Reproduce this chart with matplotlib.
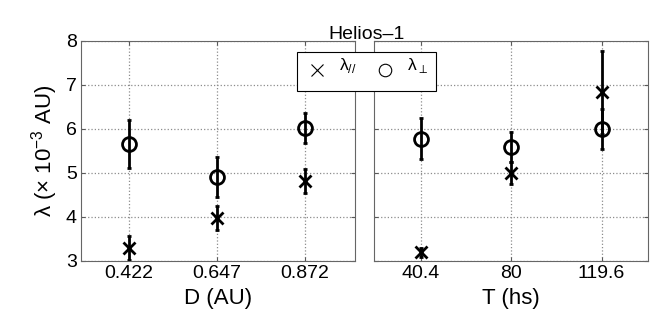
import matplotlib
matplotlib.use('Agg')
import matplotlib.pyplot as plt
from matplotlib.lines import Line2D

plt.rcParams['font.family'] = ['Liberation Sans', 'DejaVu Sans']
plt.rcParams['mathtext.fontset'] = 'custom'
plt.rcParams['mathtext.rm'] = 'Liberation Sans'
plt.rcParams['mathtext.it'] = 'Liberation Sans'

# distancia (AU)
d = [0.422, 0.647, 0.872]
d_par = [3.30, 3.97, 4.82]
d_par_err = [0.27, 0.27, 0.27]
d_perp = [5.66, 4.91, 6.02]
d_perp_err = [0.54, 0.46, 0.33]

# tiempo (hs)
t = [40.4, 80, 119.6]
t_par = [3.20, 5.00, 6.83]
t_par_err = [0.10, 0.25, 0.94]
t_perp = [5.78, 5.58, 6.00]
t_perp_err = [0.47, 0.34, 0.45]

fig = plt.figure(figsize=(6.54, 3.27), dpi=100)
ax1 = fig.add_axes([0.124, 0.202, 0.419, 0.673])
ax2 = fig.add_axes([0.572, 0.202, 0.419, 0.673])

estilo = dict(color='black', elinewidth=2, capsize=1.5, capthick=2,
              linestyle='none', markerfacecolor='none', markeredgewidth=2)

for ax, x, par, par_e, perp, perp_e in [(ax1, d, d_par, d_par_err, d_perp, d_perp_err),
                                        (ax2, t, t_par, t_par_err, t_perp, t_perp_err)]:
    ax.errorbar(x, par, yerr=par_e, marker='x', markersize=9, **estilo)
    ax.errorbar(x, perp, yerr=perp_e, marker='o', markersize=10, **estilo)
    ax.set_ylim(3, 8)
    ax.set_yticks([3, 4, 5, 6, 7, 8])
    ax.set_xticks(x)
    ax.set_xticklabels([str(v) for v in x])
    ax.grid(True, linestyle=':', color='0.55', linewidth=0.9)
    ax.tick_params(direction='in', length=3, labelsize=14, color='0.35',
                   top=True, right=True, pad=3)
    for s in ax.spines.values():
        s.set_color('0.4')

ax1.set_xlim(0.3, 1.0)
ax2.set_xlim(20, 140)
ax2.set_yticklabels([])

ax1.set_xlabel('D (AU)', fontsize=16, labelpad=4)
ax2.set_xlabel('T (hs)', fontsize=16, labelpad=4)
ax1.set_ylabel(r'$\lambda$ ($\times$ 10$^{-3}$ AU)', fontsize=16, labelpad=4)

fig.text(0.56, 0.895, 'Helios\u20131', ha='center', va='center', fontsize=14)

handles = [Line2D([], [], color='black', marker='x', linestyle='none', markersize=9, markeredgewidth=0.8),
           Line2D([], [], color='black', marker='o', linestyle='none', markersize=9,
                  markerfacecolor='none', markeredgewidth=0.8)]
labels = [r'$^{\lambda_{//}}$', r'$^{\lambda_{\perp}}$']
leg = fig.legend(handles, labels, ncol=2, loc='center', bbox_to_anchor=(0.56, 0.781),
                 fontsize=18, frameon=True, fancybox=False, framealpha=1,
                 edgecolor='black', handlelength=1.0, handletextpad=0.4,
                 columnspacing=0.6, borderpad=0.3)
leg.get_frame().set_linewidth(0.8)

fig.savefig('out.png', dpi=100)
